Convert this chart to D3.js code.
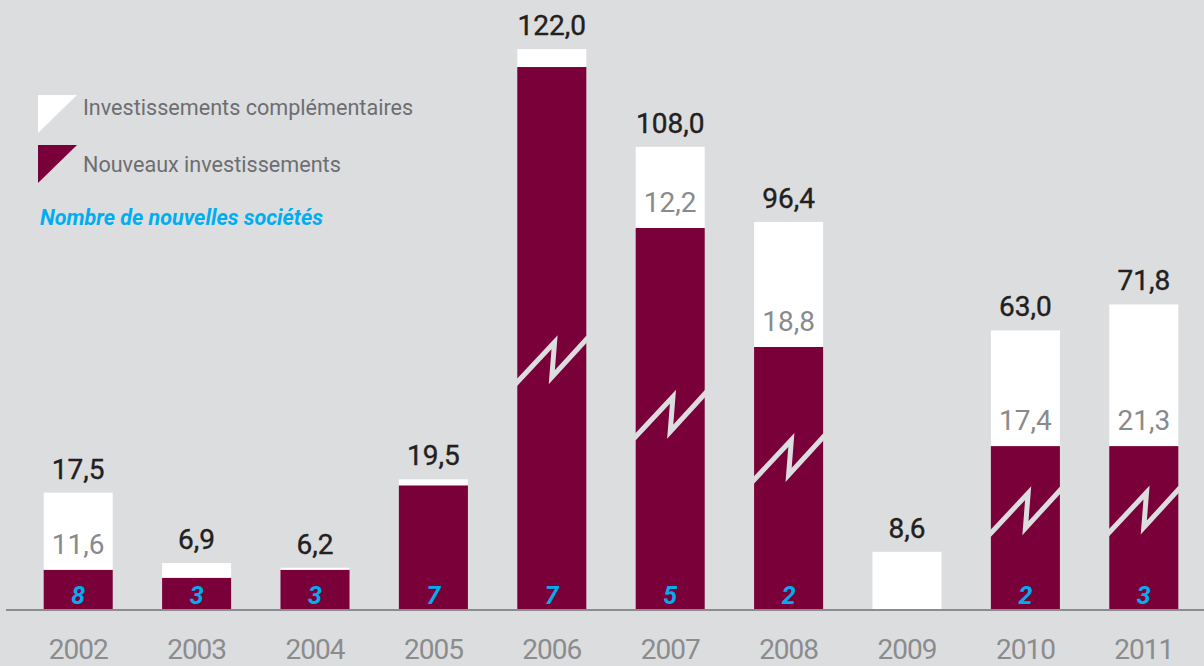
<html lang="fr">
<head>
<meta charset="utf-8">
<style>
body { margin: 0; background: #dcdddf; }
svg { display: block; font-family: Roboto, "Noto Sans", sans-serif; }
</style>
</head>
<body>
<script type='text/javascript' src='https://d3js.org/d3.v7.min.js'></script>
<script>
// years and values (M€)
const years = ["2002", "2003", "2004", "2005", "2006", "2007", "2008", "2009", "2010", "2011"];
const newInvest = [5.9, 4.7, 5.9, 18.6, 119.3, 95.8, 77.6, 0, 45.6, 50.5];
const compInvest = [11.6, 2.2, 0.3, 0.9, 2.7, 12.2, 18.8, 8.6, 17.4, 21.3];
const newCompanies = [8, 3, 3, 7, 7, 5, 2, null, 2, 3];
// part of the new investments hidden by the axis break, and where the break is drawn
const breakCut = [0, 0, 0, 0, 37.8, 38.5, 38.2, 0, 21.1, 26.0];
const breakAt = [null, null, null, null, 34.1, 25.9, 19.4, null, 11.4, 11.5];

const legendItems = ["Investissements complémentaires", "Nouveaux investissements"];
const legendColors = ["#ffffff", "#7a0039"];

const width = 1204, height = 666;
const baseY = 609;

const svg = d3.select("body").append("svg")
  .attr("width", width)
  .attr("height", height);

svg.append("rect").attr("width", width).attr("height", height).attr("fill", "#dcdddf");

const fr = d3.formatLocale({decimal: ",", thousands: " ", grouping: [3], currency: ["", " €"]});
const fmt = fr.format(".1f");

const x = d3.scaleBand()
  .domain(years)
  .range([19, 1203])
  .paddingInner(0.417)
  .paddingOuter(0.2086);

const y = d3.scaleLinear()
  .domain([0, baseY / 6.65])
  .range([baseY, 0]);

const data = years.map(function(yr, i) {
  const shown = newInvest[i] - breakCut[i];
  return {
    year: yr,
    nv: newInvest[i],
    comp: compInvest[i],
    total: newInvest[i] + compInvest[i],
    shown: shown,
    count: newCompanies[i],
    brk: breakAt[i]
  };
});

// new investments (maroon)
svg.selectAll(".new")
  .data(data.filter(d => d.nv > 0))
  .enter().append("rect")
  .attr("class", "new")
  .attr("x", d => x(d.year))
  .attr("width", x.bandwidth())
  .attr("y", d => y(d.shown))
  .attr("height", d => y(0) - y(d.shown))
  .attr("fill", "#7a0039");

// complementary investments (white)
svg.selectAll(".comp")
  .data(data)
  .enter().append("rect")
  .attr("class", "comp")
  .attr("x", d => x(d.year))
  .attr("width", x.bandwidth())
  .attr("y", d => y(d.shown + d.comp))
  .attr("height", d => y(d.shown) - y(d.shown + d.comp))
  .attr("fill", "#ffffff");

// axis break marks
const bw = x.bandwidth();
svg.selectAll(".brk")
  .data(data.filter(d => d.brk != null))
  .enter().append("path")
  .attr("class", "brk")
  .attr("d", function(d) {
    const x0 = x(d.year), yl = y(d.brk);
    return "M" + (x0 - 2) + "," + (yl + 2) +
      "L" + (x0 + bw * 0.54) + "," + (yl - 40) +
      "L" + (x0 + bw * 0.5) + "," + (yl - 5) +
      "L" + (x0 + bw + 2) + "," + (yl - 45);
  })
  .attr("fill", "none")
  .attr("stroke", "#dcdddf")
  .attr("stroke-width", 5)
  .attr("stroke-linejoin", "miter");

// baseline
svg.append("line")
  .attr("x1", 6).attr("x2", width)
  .attr("y1", baseY + 1).attr("y2", baseY + 1)
  .attr("stroke", "#8b8c8e")
  .attr("stroke-width", 2);

// totals
svg.selectAll(".total")
  .data(data)
  .enter().append("text")
  .attr("class", "total")
  .attr("x", d => x(d.year) + bw / 2)
  .attr("y", d => y(d.shown + d.comp) - 14)
  .attr("text-anchor", "middle")
  .attr("font-size", 28)
  .attr("font-weight", 400)
  .attr("fill", "#231f20")
  .attr("stroke", "#231f20")
  .attr("stroke-width", 0.4)
  .text(d => fmt(d.total));

// complementary values inside the white part
svg.selectAll(".compLabel")
  .data(data.filter(d => d.comp >= 10))
  .enter().append("text")
  .attr("class", "compLabel")
  .attr("x", d => x(d.year) + bw / 2)
  .attr("y", d => y(d.shown) - 16)
  .attr("text-anchor", "middle")
  .attr("font-size", 28)
  .attr("fill", "#898a8c")
  .text(d => fmt(d.comp));

// number of new companies
svg.selectAll(".count")
  .data(data.filter(d => d.count != null))
  .enter().append("text")
  .attr("class", "count")
  .attr("x", d => x(d.year) + bw / 2)
  .attr("y", 604)
  .attr("text-anchor", "middle")
  .attr("font-size", 25)
  .attr("font-weight", 700)
  .attr("font-style", "italic")
  .attr("fill", "#00aeef")
  .text(d => d.count);

// x axis labels
const xAxis = svg.append("g")
  .attr("transform", "translate(0," + baseY + ")")
  .call(d3.axisBottom(x).tickSize(0).tickPadding(0));
xAxis.select(".domain").remove();
xAxis.selectAll("text")
  .attr("y", 50)
  .attr("dy", null)
  .attr("font-family", "Roboto, sans-serif")
  .attr("font-size", 28)
  .attr("letter-spacing", -1)
  .attr("fill", "#8b8c8e");

// legend
const legend = svg.selectAll(".legend")
  .data(legendItems)
  .enter().append("g")
  .attr("class", "legend")
  .attr("transform", (d, i) => "translate(38," + (95 + i * 50) + ")");
legend.append("path")
  .attr("d", "M0,0L39,0L0,38Z")
  .attr("fill", (d, i) => legendColors[i]);
legend.append("text")
  .attr("x", 45)
  .attr("y", (d, i) => 20 + i * 7)
  .attr("font-size", 21.6)
  .attr("font-weight", 400)
  .attr("fill", "#6d6e71")
  .text(d => d);

svg.append("text")
  .attr("x", 40)
  .attr("y", 225)
  .attr("font-size", 21.5)
  .attr("font-weight", 700)
  .attr("font-style", "italic")
  .attr("fill", "#00aeef")
  .text("Nombre de nouvelles sociétés");
</script>
</body>
</html>
